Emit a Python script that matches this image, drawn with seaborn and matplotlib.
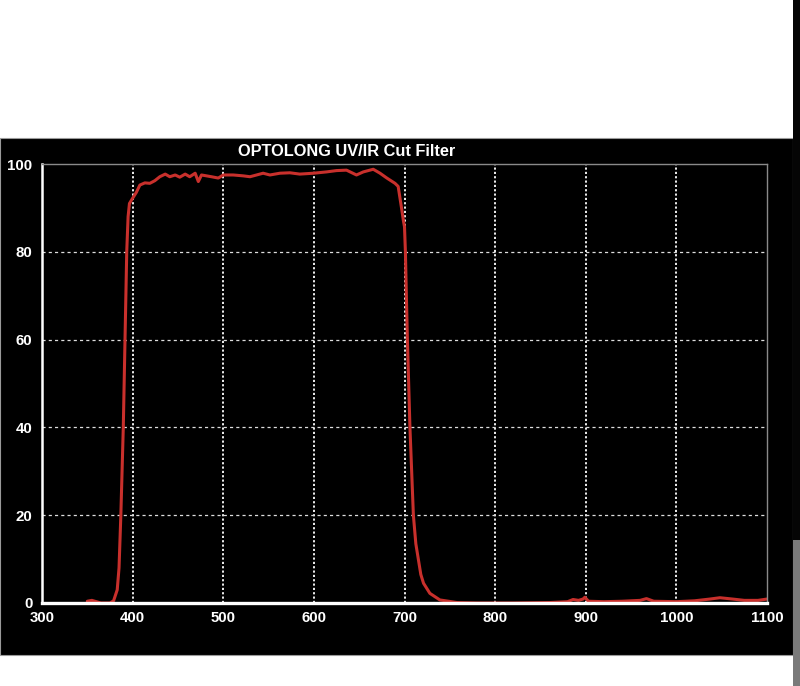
import matplotlib
matplotlib.use('Agg')
import matplotlib.pyplot as plt
from matplotlib.patches import Rectangle
import seaborn as sns
import pandas as pd

# ------------------------------------------------------------
# transmission curve
# ------------------------------------------------------------
wavelength = [350, 355, 360, 365, 375, 379, 383, 385, 387, 389.7, 391.6, 393.5,
              395, 396.5, 400, 404, 408, 413.5, 419, 424.5, 430, 436, 441, 447,
              452, 458, 463, 469, 472.5, 476, 481.5, 487, 494.5, 500, 511, 522,
              529.5, 544, 551.5, 562.5, 573.5, 584.5, 599.5, 614, 625, 636, 647,
              654.5, 665.5, 673, 680.5, 689.5, 693, 697, 698.7, 700, 701, 702,
              703.2, 706, 709.8, 712.5, 715.4, 718, 721, 728, 739, 758, 780, 820,
              860, 880, 886, 892, 897, 899, 903, 920, 940, 960, 967, 975, 1000,
              1020, 1037, 1048, 1062, 1075, 1090, 1100]
transmission = [0.4, 0.6, 0.3, 0.0, 0.0, 0.5, 3, 8, 20, 40, 60, 80,
                88, 91, 92.2, 93.5, 95.2, 95.7, 95.6, 96.2, 97.1, 97.7, 97.1, 97.5,
                97.0, 97.7, 97.1, 97.9, 96.0, 97.5, 97.3, 97.1, 96.8, 97.5, 97.5, 97.3,
                97.1, 97.9, 97.5, 97.9, 98.0, 97.7, 97.9, 98.2, 98.5, 98.6, 97.5,
                98.2, 98.8, 97.9, 96.8, 95.6, 94.9, 89.6, 87.2, 85.7, 80, 70.6,
                60, 40, 20, 13.5, 9.8, 6.5, 4.5, 2.2, 0.7, 0.1, 0.0, 0.0,
                0.1, 0.3, 0.8, 0.6, 0.9, 1.3, 0.4, 0.3, 0.4, 0.6, 1.0, 0.4, 0.3,
                0.5, 0.9, 1.2, 0.9, 0.6, 0.6, 0.9]

x_ticks = [300, 400, 500, 600, 700, 800, 900, 1000, 1100]
y_ticks = [0, 20, 40, 60, 80, 100]
title = 'OPTOLONG UV/IR Cut Filter'

df = pd.DataFrame({'wl': wavelength, 'T': transmission})

sns.set_style('dark')
plt.rcParams['font.family'] = ['Liberation Sans', 'DejaVu Sans']
plt.rcParams['font.weight'] = 'bold'

fig = plt.figure(figsize=(8, 6.86), dpi=100)
fig.patch.set_facecolor('white')

# black panel behind the chart, plus the dark strip on the right edge
fig.add_artist(Rectangle((0, 1 - 655 / 686), 793 / 800, (655 - 138) / 686,
                         transform=fig.transFigure, facecolor='black',
                         edgecolor='#9a9a9a', linewidth=0.8, zorder=-2))
fig.add_artist(Rectangle((793 / 800, 1 - 540 / 686), 7 / 800, 540 / 686,
                         transform=fig.transFigure, facecolor='#050505',
                         edgecolor='none', zorder=-2))
fig.add_artist(Rectangle((793 / 800, 0), 7 / 800, 1 - 540 / 686,
                         transform=fig.transFigure, facecolor='#7a7a7a',
                         edgecolor='none', zorder=-2))

ax = fig.add_axes([42 / 800, 1 - 603 / 686, 725 / 800, 439 / 686])
ax.set_facecolor('black')

sns.lineplot(data=df, x='wl', y='T', ax=ax, color='#c8302c', linewidth=2.2,
             estimator=None, sort=False)

ax.set_xlim(300, 1100)
ax.set_ylim(0, 100)
ax.set_xticks(x_ticks)
ax.set_yticks(y_ticks)
ax.set_xlabel('')
ax.set_ylabel('')

# grid: dotted verticals, dashed horizontals
ax.grid(False)
for xv in x_ticks[1:-1]:
    ax.axvline(xv, color='white', linestyle=(0, (1.2, 1.2)), linewidth=1.3, zorder=1)
for yv in y_ticks[1:-1]:
    ax.axhline(yv, color='#dddddd', linestyle=(0, (2.5, 2.5)), linewidth=0.9, zorder=1)

ax.spines['left'].set_color('white')
ax.spines['left'].set_linewidth(1.8)
ax.spines['bottom'].set_color('white')
ax.spines['bottom'].set_linewidth(2.4)
ax.spines['top'].set_color('#8a8a8a')
ax.spines['top'].set_linewidth(1.0)
ax.spines['right'].set_color('#8a8a8a')
ax.spines['right'].set_linewidth(1.0)
for s in ax.spines.values():
    s.set_visible(True)

ax.tick_params(axis='both', direction='in', colors='white', length=4, width=1.6,
               labelsize=10.8, labelcolor='white')
ax.tick_params(axis='y', pad=7)
ax.tick_params(axis='x', pad=6)
for lbl in ax.get_xticklabels() + ax.get_yticklabels():
    lbl.set_fontweight('bold')

fig.text(347 / 800, 1 - 151 / 686, title, ha='center', va='center',
         color='white', fontsize=11.8, fontweight='bold')

fig.savefig('out.png', dpi=100, facecolor=fig.get_facecolor())
